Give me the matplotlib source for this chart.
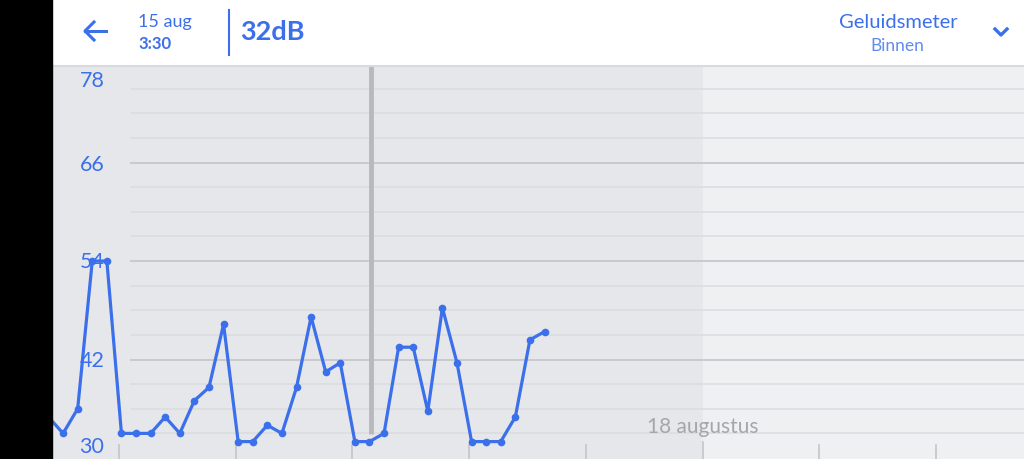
import numpy as np
import matplotlib
matplotlib.use("Agg")
import matplotlib.pyplot as plt
from matplotlib.lines import Line2D
from matplotlib.patches import Rectangle
import matplotlib.transforms as mtransforms

plt.rcParams['font.family'] = ['Lato', 'DejaVu Sans']

# sound level readings (dB), every 3 hours, hours counted from 13 aug 00:00
hours = np.arange(-14.5, 88, 3.0)
db_values = [35, 33, 36, 54, 54, 33, 33, 33, 35, 33, 37, 38.6, 46.3, 32, 32, 34, 33,
             38.6, 47.2, 40.5, 41.6, 32, 32, 33, 43.5, 43.5, 35.7, 48.3, 41.6, 32, 32,
             32, 35, 44.4, 45.4]
day_ticks = [0, 24, 48, 72, 96, 120, 144, 168]
ytick_vals = [78, 66, 54, 42, 30]
major_grid = [42, 54, 66]
minor_grid = [33, 36, 39, 45, 48, 51, 57, 60, 63, 69, 72, 75]
cursor_hour = 51.5
day_label = "18 augustus"

BLUE = '#3b70ea'
W, H = 1024, 460

def fx(px):
    return px / W

def fy(py):
    return 1 - py / H

fig = plt.figure(figsize=(10.24, 4.6), dpi=100)
fig.patch.set_facecolor('white')

ax = fig.add_axes([fx(52), 0, fx(1024) - fx(52), fy(67)])
ax.set_xlim(-13.78, 186.1)
ax.set_ylim(29.88, 77.76)
ax.axis('off')

# background: past region darker, future lighter
ax.axvspan(-13.78, 120, color='#e6e7ea', zorder=0)
ax.axvspan(120, 186.1, color='#eff0f2', zorder=0)

grid_start = (131 - 52) / 972
for v in minor_grid:
    ax.axhline(v, xmin=grid_start, xmax=1, color='#dcdde0', lw=1.2, zorder=1)
for v in major_grid:
    ax.axhline(v, xmin=grid_start, xmax=1, color='#c9cacd', lw=1.4, zorder=1)

# day tick marks along the bottom
for d in day_ticks:
    top = 31.9 if d == 120 else 31.55
    ax.plot([d, d], [29.88, top], color='#c3c5c8', lw=1.2, zorder=1)

# y labels drawn inside the plot
label_pos = {78: 76.0, 66: 65.8, 54: 54, 42: 41.9, 30: 31.5}
trans = mtransforms.blended_transform_factory(ax.transAxes, ax.transData)
for v in ytick_vals:
    ax.text((92 - 52) / 972, label_pos[v], str(v), transform=trans, ha='center',
            va='center', color=BLUE, fontsize=15.5, zorder=2)

ax.text(120, 33.9, day_label, ha='center', va='center', color='#a3a7ab',
        fontsize=15, zorder=2)

# cursor
ax.plot([cursor_hour + 0.3, cursor_hour + 0.3], [32.9, 77.76], color='#b8b9bc',
        lw=3.5, zorder=3, solid_capstyle='butt')

ax.plot(hours, db_values, color=BLUE, lw=2.3, marker='o', markersize=4.5,
        zorder=4, clip_on=True)

# header
fig.add_artist(Rectangle((0, 0), fx(52), 1, transform=fig.transFigure,
                         color='black', zorder=10))
fig.add_artist(Line2D([fx(52), 1], [fy(67), fy(67)], transform=fig.transFigure,
                      color='#d9dadd', lw=1.5, zorder=9))
# back arrow
fig.add_artist(Line2D([fx(85), fx(106)], [fy(32), fy(32)], transform=fig.transFigure,
                      color=BLUE, lw=2.2, zorder=11))
fig.add_artist(Line2D([fx(94), fx(85), fx(94)], [fy(23), fy(32), fy(41)],
                      transform=fig.transFigure, color=BLUE, lw=2.2, zorder=11))
fig.text(fx(138), fy(22), "15 aug", color=BLUE, fontsize=13, ha='left', va='center')
fig.text(fx(138), fy(44), "3:30", color=BLUE, fontsize=12, fontweight='bold',
         ha='left', va='center')
fig.add_artist(Line2D([fx(229), fx(229)], [fy(11), fy(56)], transform=fig.transFigure,
                      color=BLUE, lw=1.5, zorder=11))
fig.text(fx(240), fy(32), "32dB", color=BLUE, fontsize=19.5, fontweight='bold',
         ha='left', va='center')
fig.text(fx(898), fy(22), "Geluidsmeter", color=BLUE, fontsize=14.5, ha='center',
         va='center')
fig.text(fx(897), fy(46), "Binnen", color='#5f8cee', fontsize=12.5, ha='center',
         va='center')
fig.add_artist(Line2D([fx(995), fx(1001), fx(1007)], [fy(30), fy(36), fy(30)],
                      transform=fig.transFigure, color=BLUE, lw=2.4, zorder=11))

fig.savefig("out.png", dpi=100)
